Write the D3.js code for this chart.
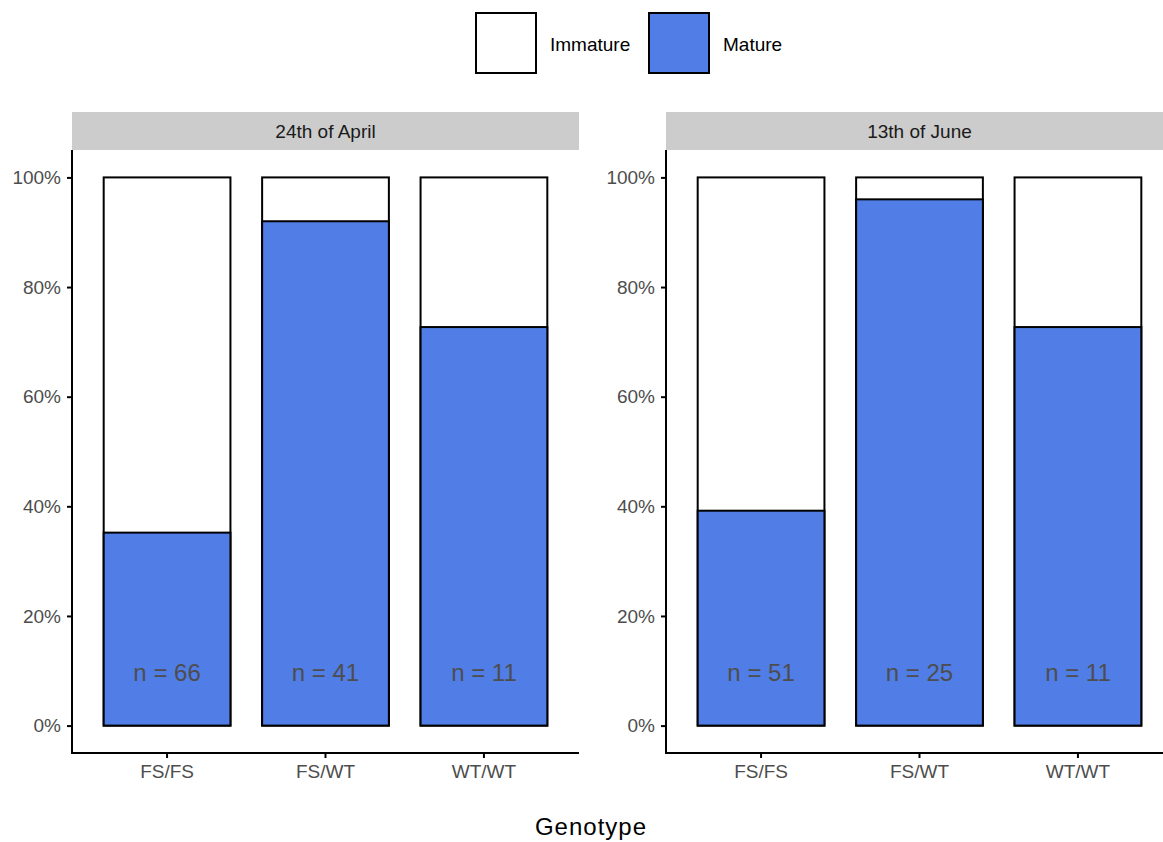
<!DOCTYPE html>
<html>
<head>
<meta charset="utf-8">
<script src="https://cdn.jsdelivr.net/npm/d3@7"></script>
<style>
  body { margin: 0; background: #fff; }
  svg { display: block; font-family: "Liberation Sans", Arial, sans-serif; }
</style>
</head>
<body>
<div id="chart"></div>
<script>
const dates = ["24th of April", "13th of June"];
const genotypes = ["FS/FS", "FS/WT", "WT/WT"];
const maturePct = [[0.352, 0.92, 0.727], [0.392, 0.96, 0.727]];
const counts = [[66, 41, 11], [51, 25, 11]];
const yTicks = [0, 0.2, 0.4, 0.6, 0.8, 1];
const stages = ["Immature", "Mature"];

const width = 1163;
const height = 842;
const panelTop = 150, panelBottom = 753, panelW = 507;
const panelLefts = [72, 666];
const colors = { Immature: "#ffffff", Mature: "#507de6" };
const fontFam = "Liberation Sans, Arial, sans-serif";

const svg = d3.select("#chart")
    .append("svg")
    .attr("width", width)
    .attr("height", height);

const yScale = d3.scaleLinear()
    .domain([-0.05, 1.05])
    .range([panelBottom, panelTop]);

dates.forEach((date, p) => {
    const left = panelLefts[p];
    const g = svg.append("g");

    // strip
    g.append("rect")
        .attr("x", left).attr("y", 112)
        .attr("width", panelW).attr("height", 38)
        .attr("fill", "#cccccc");
    g.append("text")
        .attr("x", left + panelW / 2).attr("y", 138)
        .attr("text-anchor", "middle")
        .attr("font-size", 19).attr("fill", "#1a1a1a")
        .text(date);

    const xScale = d3.scaleBand()
        .domain(genotypes)
        .range([left, left + panelW])
        .paddingInner(0.2)
        .paddingOuter(0.2);

    // Immature bars (full height)
    g.selectAll(".imm")
        .data(genotypes)
        .enter().append("rect")
        .attr("x", d => xScale(d))
        .attr("y", yScale(1))
        .attr("width", xScale.bandwidth())
        .attr("height", yScale(0) - yScale(1))
        .attr("fill", colors.Immature)
        .attr("stroke", "#000").attr("stroke-width", 2);

    // Mature bars
    g.selectAll(".mat")
        .data(genotypes)
        .enter().append("rect")
        .attr("x", d => xScale(d))
        .attr("y", (d, i) => yScale(maturePct[p][i]))
        .attr("width", xScale.bandwidth())
        .attr("height", (d, i) => yScale(0) - yScale(maturePct[p][i]))
        .attr("fill", colors.Mature)
        .attr("stroke", "#000").attr("stroke-width", 2);

    // n labels
    g.selectAll(".nlab")
        .data(genotypes)
        .enter().append("text")
        .attr("x", d => xScale(d) + xScale.bandwidth() / 2)
        .attr("y", yScale(0.1))
        .attr("dy", "0.42em")
        .attr("text-anchor", "middle")
        .attr("font-size", 24).attr("fill", "#4d4d4d")
        .text((d, i) => `n = ${counts[p][i]}`);

    // Y axis
    const yAxis = g.append("g")
        .attr("transform", `translate(${left}, 0)`)
        .call(d3.axisLeft(yScale).tickValues(yTicks)
            .tickFormat(d3.format(".0%")).tickSize(5).tickSizeOuter(0));
    yAxis.select(".domain").attr("stroke-width", 2).attr("d", `M0,${panelTop}V${panelBottom}`);
    yAxis.selectAll(".tick line").attr("stroke-width", 2);
    yAxis.selectAll(".tick text").attr("font-size", 19).attr("fill", "#4d4d4d")
        .attr("x", -11).attr("font-family", fontFam);

    // X axis
    const xAxis = g.append("g")
        .attr("transform", `translate(0, ${panelBottom})`)
        .call(d3.axisBottom(xScale).tickSize(5).tickSizeOuter(0));
    xAxis.select(".domain").attr("stroke-width", 2).attr("d", `M${left - 1},0H${left + panelW}`);
    xAxis.selectAll(".tick line").attr("stroke-width", 2);
    xAxis.selectAll(".tick text").attr("font-size", 19).attr("fill", "#4d4d4d")
        .attr("y", 12).attr("font-family", fontFam);
});

// X title
svg.append("text")
    .attr("x", 591).attr("y", 835)
    .attr("text-anchor", "middle")
    .attr("font-size", 24).attr("letter-spacing", 1).attr("fill", "#000")
    .text("Genotype");

// Legend
const legendX = [475, 648];
stages.forEach((s, i) => {
    svg.append("rect")
        .attr("x", legendX[i] + 1).attr("y", 13)
        .attr("width", 60).attr("height", 60)
        .attr("fill", colors[s])
        .attr("stroke", "#000").attr("stroke-width", 2);
    svg.append("text")
        .attr("x", legendX[i] + 75).attr("y", 51)
        .attr("font-size", 19).attr("fill", "#000")
        .text(s);
});
</script>
</body>
</html>
